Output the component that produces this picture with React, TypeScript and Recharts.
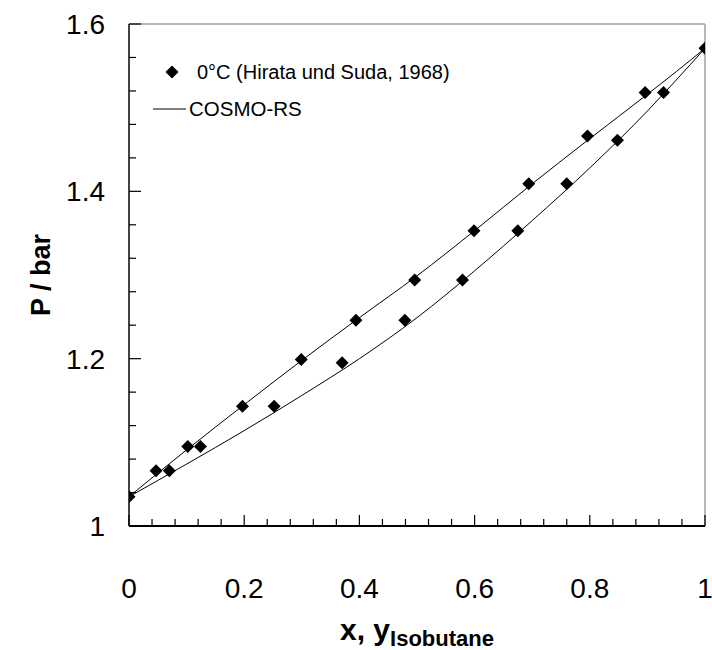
import React from 'react';
import { ComposedChart, XAxis, YAxis, Line, Scatter, Legend, ReferenceLine } from 'recharts';

// Experimental VLE data, isobutane + n-butane at 0 °C (Hirata und Suda, 1968)
const liquidX = [0, 0.047, 0.102, 0.197, 0.299, 0.394, 0.496, 0.599, 0.694, 0.796, 0.896, 1];
const liquidP = [1.035, 1.066, 1.095, 1.143, 1.199, 1.246, 1.294, 1.353, 1.409, 1.466, 1.518, 1.571];
const vaporY = [0.07, 0.124, 0.252, 0.37, 0.479, 0.579, 0.675, 0.76, 0.848, 0.928];
const vaporP = [1.066, 1.095, 1.143, 1.195, 1.246, 1.294, 1.353, 1.409, 1.461, 1.518];

// COSMO-RS prediction: bubble curve (P vs x) and dew curve (P vs y)
const modelComp = [0, 0.1, 0.2, 0.3, 0.4, 0.5, 0.6, 0.7, 0.8, 0.9, 0.95, 1];
const bubbleP = [1.035, 1.091, 1.145, 1.198, 1.249, 1.299, 1.353, 1.409, 1.463, 1.516, 1.543, 1.571];
const dewP = [1.035, 1.074, 1.114, 1.156, 1.2, 1.249, 1.305, 1.365, 1.428, 1.496, 1.533, 1.571];

// Axis ticks (minor every 0.04, labelled every 0.2)
const xTicks = [0, 0.04, 0.08, 0.12, 0.16, 0.2, 0.24, 0.28, 0.32, 0.36, 0.4, 0.44, 0.48, 0.52, 0.56, 0.6, 0.64, 0.68, 0.72, 0.76, 0.8, 0.84, 0.88, 0.92, 0.96, 1];
const yTicks = [1, 1.04, 1.08, 1.12, 1.16, 1.2, 1.24, 1.28, 1.32, 1.36, 1.4, 1.44, 1.48, 1.52, 1.56, 1.6];
const xTickLabels = ['0', '0.2', '0.4', '0.6', '0.8', '1'];
const yTickLabels = ['1', '1.2', '1.4', '1.6'];

const FONT = '"Liberation Sans", Arial, sans-serif';

const expData = [
  ...liquidX.map((x, i) => ({ x, P: liquidP[i] })),
  ...vaporY.map((x, i) => ({ x, P: vaporP[i] })),
];
const bubbleData = modelComp.map((x, i) => ({ x, P: bubbleP[i] }));
const dewData = modelComp.map((x, i) => ({ x, P: dewP[i] }));

const majorIndex = (v: number, start: number) => {
  const k = (v - start) / 0.2;
  return Math.abs(k - Math.round(k)) < 1e-6 ? Math.round(k) : -1;
};

const XTick = (props: any) => {
  const { x, y, payload } = props;
  const idx = majorIndex(payload.value, 0);
  const major = idx >= 0;
  return (
    <g>
      <line x1={x} x2={x} y1={y} y2={y - (major ? 11 : 7)} stroke="#000" strokeWidth={1.2} />
      {major && (
        <text x={x} y={y + 72} textAnchor="middle" fontFamily={FONT} fontSize={28} fill="#000">
          {xTickLabels[idx]}
        </text>
      )}
    </g>
  );
};

const YTick = (props: any) => {
  const { x, y, payload } = props;
  const idx = majorIndex(payload.value, 1);
  const major = idx >= 0;
  return (
    <g>
      <line x1={x} x2={x + (major ? 12 : 7)} y1={y} y2={y} stroke="#000" strokeWidth={1.2} />
      {major && (
        <text x={x - 24} y={y + 10} textAnchor="end" fontFamily={FONT} fontSize={28} fill="#000">
          {yTickLabels[idx]}
        </text>
      )}
    </g>
  );
};

const Diamond = (props: any) => {
  const { cx, cy } = props;
  const r = 6.5;
  return <polygon points={`${cx},${cy - r} ${cx + r},${cy} ${cx},${cy + r} ${cx - r},${cy}`} fill="#000" />;
};

const LegendBox = () => (
  <svg width={712} height={130} style={{ display: 'block', pointerEvents: 'none' }}>
    <polygon points="172,65.5 178.5,72 172,78.5 165.5,72" fill="#000" />
    <text x={197} y={79} fontFamily={FONT} fontSize={20} fill="#000">
      0°C (Hirata und Suda, 1968)
    </text>
    <line x1={153} x2={186} y1={109} y2={109} stroke="#000" strokeWidth={1} />
    <text x={189} y={116} fontFamily={FONT} fontSize={20.5} fill="#000">
      COSMO-RS
    </text>
  </svg>
);

const XTitle = () => (
  <text x={417} y={640} textAnchor="middle" fontFamily={FONT} fontWeight="bold" fill="#000">
    <tspan fontSize={30}>x, y</tspan>
    <tspan fontSize={22} dy={6}>Isobutane</tspan>
  </text>
);

const YTitle = () => (
  <text
    x={50}
    y={275}
    transform="rotate(-90, 50, 275)"
    textAnchor="middle"
    fontFamily={FONT}
    fontWeight="bold"
    fontSize={27}
    fill="#000"
  >
    P / bar
  </text>
);

export default function App() {
  return (
    <div style={{ position: 'absolute', left: 0, top: 0, width: 712, height: 650, background: '#fff' }}>
      <ComposedChart width={712} height={650} margin={{ top: 24, right: 7, bottom: 0, left: 0 }}>
        <XAxis
          dataKey="x"
          type="number"
          domain={[0, 1]}
          ticks={xTicks}
          interval={0}
          height={124}
          tickSize={0}
          tickMargin={0}
          tickLine={false}
          tick={<XTick />}
          axisLine={{ stroke: '#000', strokeWidth: 1.8 }}
          allowDataOverflow
          label={<XTitle />}
        />
        <YAxis
          dataKey="P"
          type="number"
          domain={[1, 1.6]}
          ticks={yTicks}
          interval={0}
          width={129}
          tickSize={0}
          tickMargin={0}
          tickLine={false}
          tick={<YTick />}
          axisLine={{ stroke: '#444', strokeWidth: 2 }}
          allowDataOverflow
          label={<YTitle />}
        />
        <ReferenceLine y={1.6} stroke="#a0a0a0" strokeWidth={1.5} />
        <ReferenceLine x={1} stroke="#a0a0a0" strokeWidth={1.5} />
        <Line
          data={bubbleData}
          dataKey="P"
          type="monotone"
          stroke="#000"
          strokeWidth={1}
          dot={false}
          activeDot={false}
          isAnimationActive={false}
          legendType="line"
        />
        <Line
          data={dewData}
          dataKey="P"
          type="monotone"
          stroke="#000"
          strokeWidth={1}
          dot={false}
          activeDot={false}
          isAnimationActive={false}
          legendType="none"
        />
        <Scatter data={expData} dataKey="P" shape={<Diamond />} isAnimationActive={false} />
        <Legend
          layout="vertical"
          align="center"
          verticalAlign="middle"
          content={<LegendBox />}
          wrapperStyle={{ left: 0, top: 0, width: 712 }}
        />
      </ComposedChart>
    </div>
  );
}
